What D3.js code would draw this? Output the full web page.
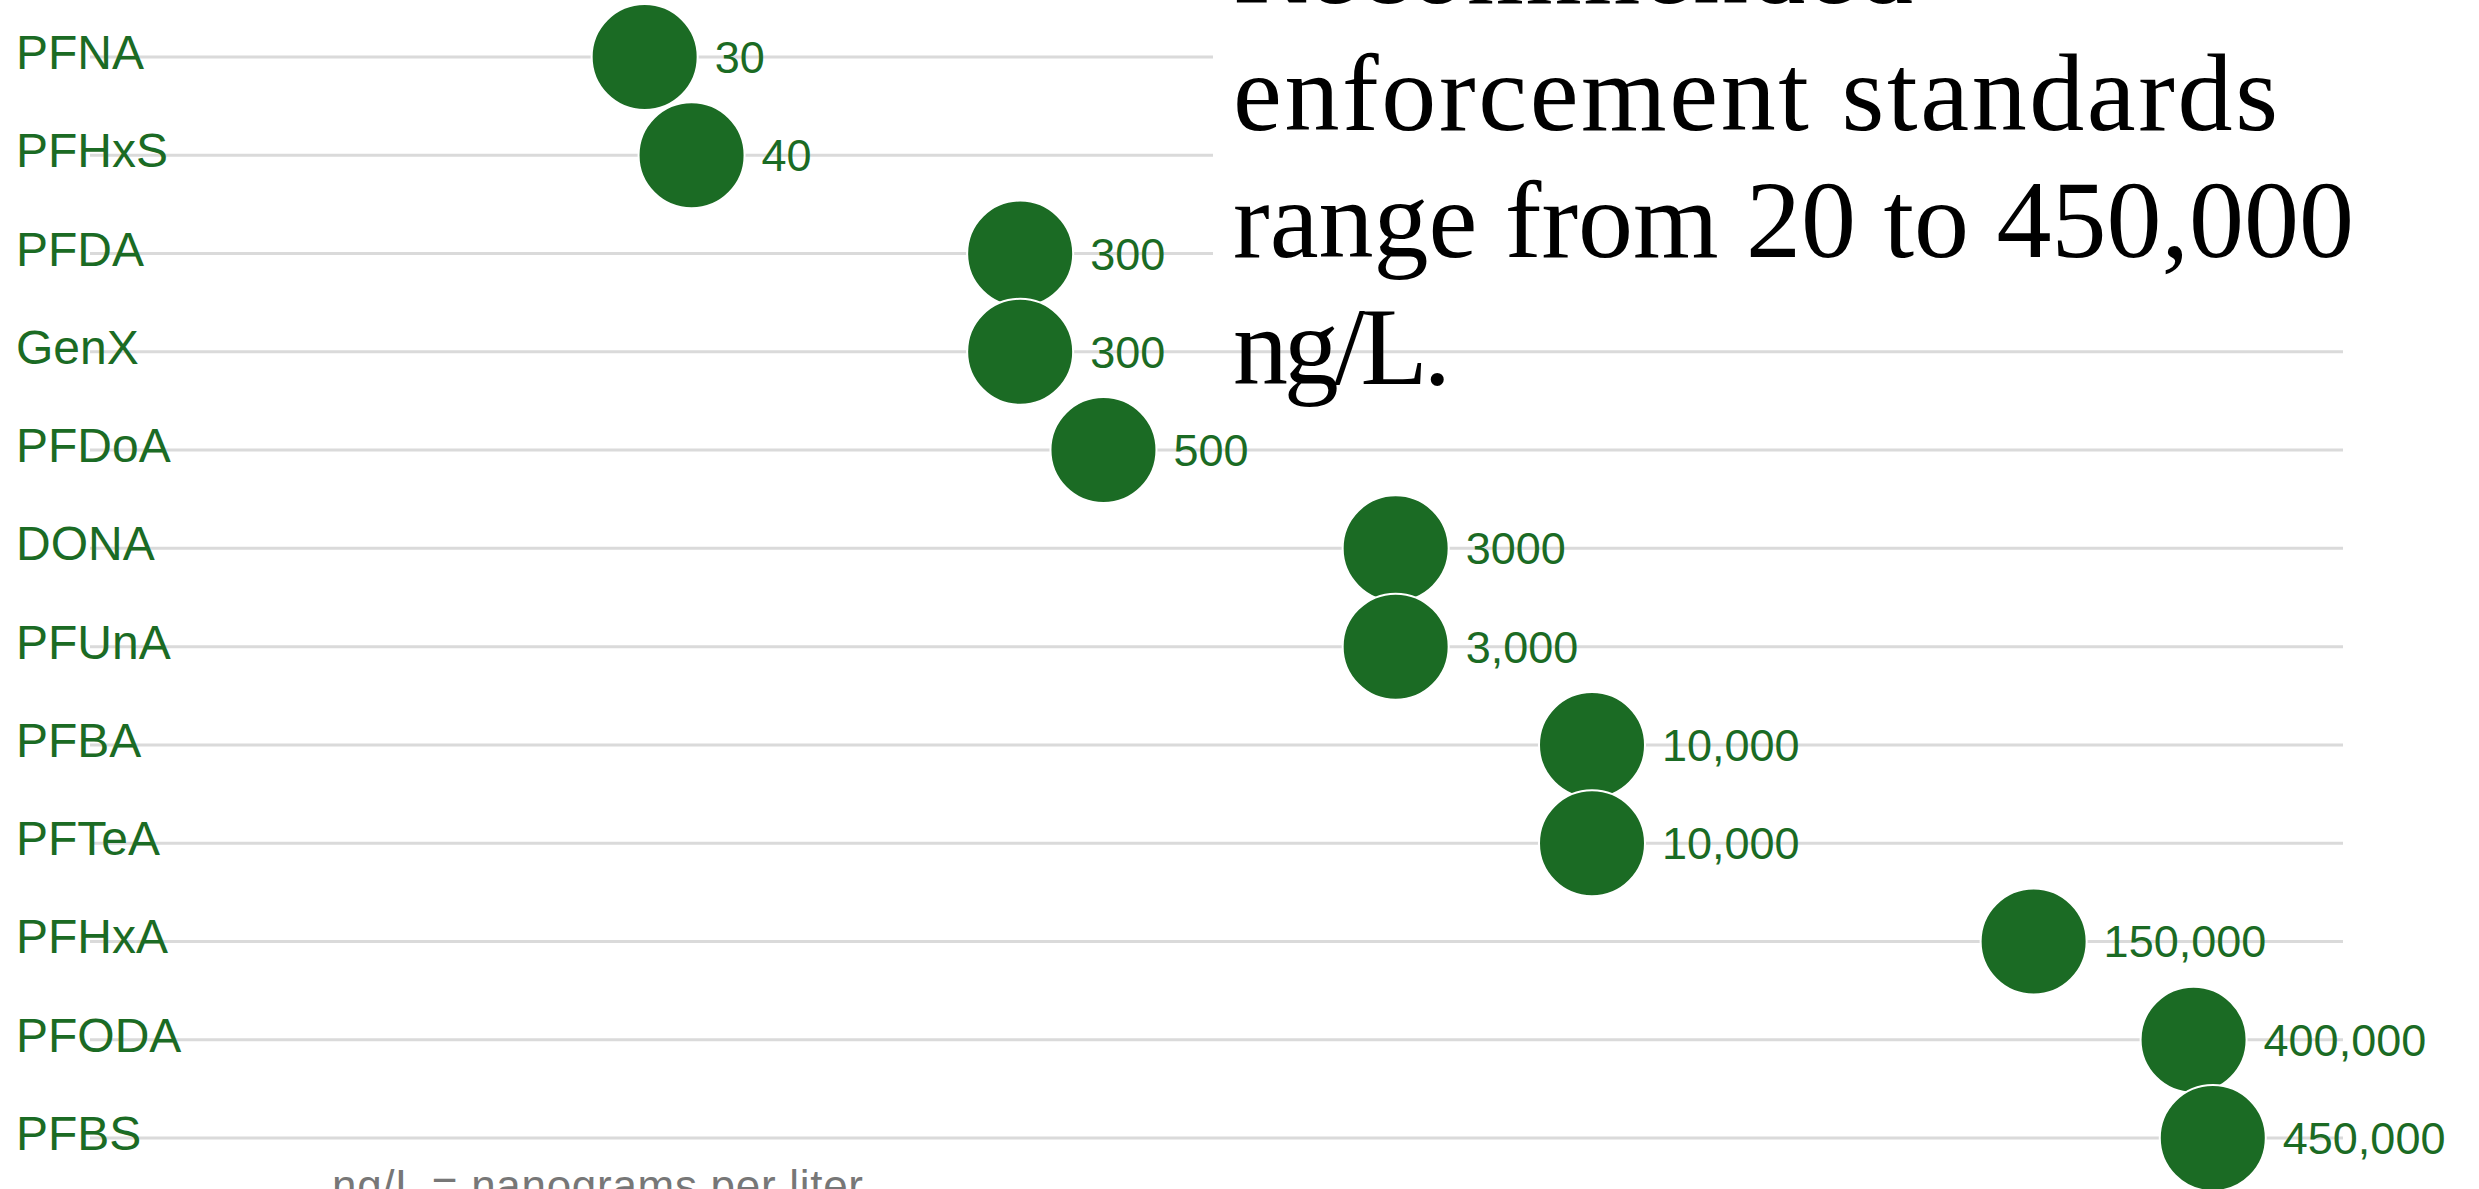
<!DOCTYPE html>
<html>
<head>
<meta charset="utf-8">
<script src="https://cdn.jsdelivr.net/npm/d3@7"></script>
<style>
  body { margin: 0; background: #fff; }
  svg { display: block; }
</style>
</head>
<body>
<svg id="chart"></svg>
<script>
// chemicals, top to bottom
const chemicals = ["PFNA", "PFHxS", "PFDA", "GenX", "PFDoA", "DONA", "PFUnA",
                   "PFBA", "PFTeA", "PFHxA", "PFODA", "PFBS"];
// recommended enforcement standard, ng/L
const standards = [30, 40, 300, 300, 500, 3000, 3000, 10000, 10000, 150000, 400000, 450000];
// labels as printed beside the dots
const valueLabels = ["30", "40", "300", "300", "500", "3000", "3,000", "10,000",
                     "10,000", "150,000", "400,000", "450,000"];
const titleLines = ["Recommended", "enforcement standards", "range from 20 to 450,000", "ng/L."];
const titleWidths = [680, 1045, 1121, 218];
const note = "ng/L = nanograms per liter";

const W = 2479, H = 1189;
const green = "#1b6b24";

const svg = d3.select("#chart")
    .attr("width", W)
    .attr("height", H);

// log scale across the row
const x = d3.scaleLog()
    .domain([1, 1e6])
    .range([90, 2343]);

const y = d3.scalePoint()
    .domain(chemicals)
    .range([57, 1138]);

const data = chemicals.map((c, i) => ({name: c, value: standards[i], label: valueLabels[i]}));

// row lines
svg.append("g")
  .selectAll("line")
  .data(chemicals)
  .enter().append("line")
    .attr("x1", x(1))
    .attr("x2", x(1e6))
    .attr("y1", d => y(d))
    .attr("y2", d => y(d))
    .attr("stroke", "#dadada")
    .attr("stroke-width", 3);

// category names
svg.append("g")
  .selectAll("text")
  .data(chemicals)
  .enter().append("text")
    .attr("x", 16)
    .attr("y", d => y(d) + 12)
    .attr("fill", green)
    .style("font-family", "'Liberation Sans', Arial, sans-serif")
    .style("font-size", "48px")
    .text(d => d);

// dots
svg.append("g")
  .selectAll("circle")
  .data(data)
  .enter().append("circle")
    .attr("cx", d => x(d.value))
    .attr("cy", d => y(d.name))
    .attr("r", 53)
    .attr("fill", green)
    .attr("stroke", "#fff")
    .attr("stroke-width", 2);

// value labels
svg.append("g")
  .selectAll("text")
  .data(data)
  .enter().append("text")
    .attr("x", d => x(d.value) + 70)
    .attr("y", d => y(d.name) + 16)
    .attr("fill", green)
    .style("font-family", "'Liberation Sans', Arial, sans-serif")
    .style("font-size", "45px")
    .text(d => d.label);

// title box sits over the top rows
svg.append("rect")
    .attr("x", 1213)
    .attr("y", 0)
    .attr("width", W - 1213)
    .attr("height", 300)
    .attr("fill", "#fff");

svg.append("g")
  .selectAll("text")
  .data(titleLines)
  .enter().append("text")
    .attr("x", 1233)
    .attr("y", (d, i) => 3 + i * 127)
    .attr("textLength", (d, i) => titleWidths[i])
    .attr("lengthAdjust", "spacing")
    .attr("fill", "#000")
    .style("font-family", "'Liberation Serif', 'Times New Roman', serif")
    .style("font-size", "110px")
    .text(d => d);

// footnote
svg.append("text")
    .attr("x", 332)
    .attr("y", 1201)
    .attr("textLength", 531)
    .attr("lengthAdjust", "spacing")
    .attr("fill", "#777")
    .style("font-family", "'Liberation Sans', Arial, sans-serif")
    .style("font-size", "44px")
    .text(note);
</script>
</body>
</html>
